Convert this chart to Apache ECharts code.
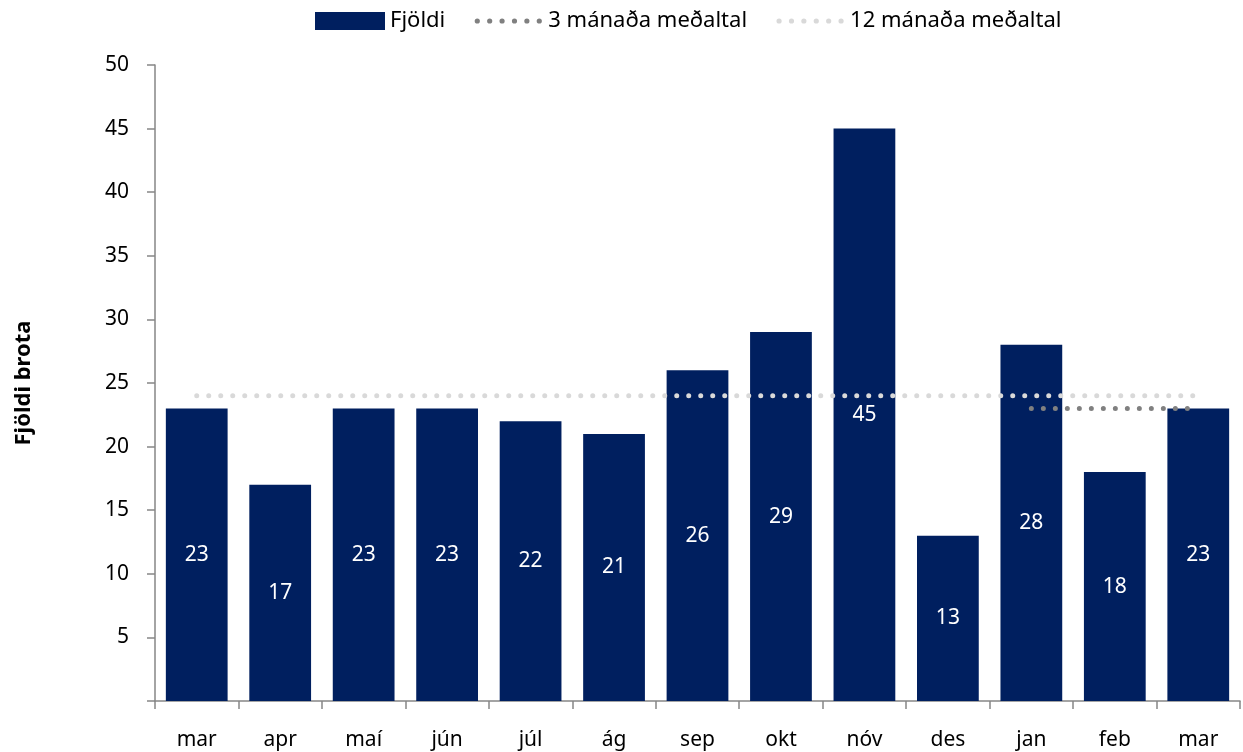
<!DOCTYPE html>
<html>
<head>
<meta charset="utf-8">
<script src="https://cdn.jsdelivr.net/npm/echarts@6/dist/echarts.min.js"></script>
<style>
  html, body { margin: 0; padding: 0; background: #fff; }
  #chart { width: 1243px; height: 752px; }
</style>
</head>
<body>
<div id="chart"></div>
<script>
// mánuðir og fjöldi brota
var manudir = ['mar', 'apr', 'maí', 'jún', 'júl', 'ág', 'sep', 'okt', 'nóv', 'des', 'jan', 'feb', 'mar'];
var fjoldi = [23, 17, 23, 23, 22, 21, 26, 29, 45, 13, 28, 18, 23];
var medaltal3 = [null, null, null, null, null, null, null, null, null, null, 23, 23, 23];
var medaltal12 = [24, 24, 24, 24, 24, 24, 24, 24, 24, 24, 24, 24, 24];

var font = 'Noto Sans';
var fs = 21;

// sex punktar fyrir línu-táknin í skýringunni (70x18 box)
function dots() {
    var p = 'path://M0 0 L0.01 0 M70 18 L70.01 18';
    var r = 2.6;
    for (var i = 0; i < 6; i++) {
        var cx = 4 + i * 12.4;
        p += ' M' + (cx - r) + ' 9 a' + r + ' ' + r + ' 0 1 0 ' + (2 * r) + ' 0 a' + r + ' ' + r + ' 0 1 0 ' + (-2 * r) + ' 0 Z';
    }
    return p;
}

var chart = echarts.init(document.getElementById('chart'));

chart.setOption({
    animation: false,
    textStyle: { fontFamily: font },
    legend: {
        top: 5,
        left: 310,
        itemGap: 28,
        itemWidth: 70,
        itemHeight: 18,
        textStyle: { fontSize: 22, color: '#000', fontFamily: font },
        data: [
            { name: 'Fjöldi', icon: 'rect' },
            { name: '3 mánaða meðaltal', icon: dots(), itemStyle: { color: '#808080' } },
            { name: '12 mánaða meðaltal', icon: dots(), itemStyle: { color: '#d9d9d9' } }
        ]
    },
    grid: { left: 155, right: 3, top: 65, bottom: 51 },
    xAxis: {
        type: 'category',
        data: manudir,
        axisLine: { lineStyle: { color: '#868686', width: 1.5 } },
        axisTick: { show: true, length: 8, alignWithLabel: false, lineStyle: { color: '#868686', width: 1.5 } },
        axisLabel: { fontSize: fs, color: '#000', margin: 29, fontFamily: font }
    },
    yAxis: {
        type: 'value',
        min: 0,
        max: 50,
        interval: 5,
        name: 'Fjöldi brota',
        nameLocation: 'middle',
        nameGap: 120,
        nameTextStyle: { fontSize: 22, fontWeight: 'bold', color: '#000', fontFamily: font },
        axisLine: { show: true, lineStyle: { color: '#868686', width: 1.5 } },
        axisTick: { show: true, length: 8, lineStyle: { color: '#868686', width: 1.5 } },
        axisLabel: {
            fontSize: fs, color: '#000', margin: 26, fontFamily: font,
            formatter: function (v) { return v === 0 ? '' : v; }
        },
        splitLine: { show: false }
    },
    series: [
        {
            name: 'Fjöldi',
            type: 'bar',
            data: fjoldi,
            barCategoryGap: '26%',
            itemStyle: { color: '#001f5f' },
            label: {
                show: true,
                position: 'inside',
                color: '#fff',
                fontSize: fs,
                fontFamily: font
            }
        },
        {
            name: '3 mánaða meðaltal',
            type: 'line',
            data: medaltal3,
            symbol: 'none',
            lineStyle: { color: '#808080', width: 5, type: [0, 12], cap: 'round' },
            itemStyle: { color: '#808080' }
        },
        {
            name: '12 mánaða meðaltal',
            type: 'line',
            data: medaltal12,
            symbol: 'none',
            lineStyle: { color: '#d9d9d9', width: 5, type: [0, 12], cap: 'round' },
            itemStyle: { color: '#d9d9d9' }
        }
    ]
});
</script>
</body>
</html>
